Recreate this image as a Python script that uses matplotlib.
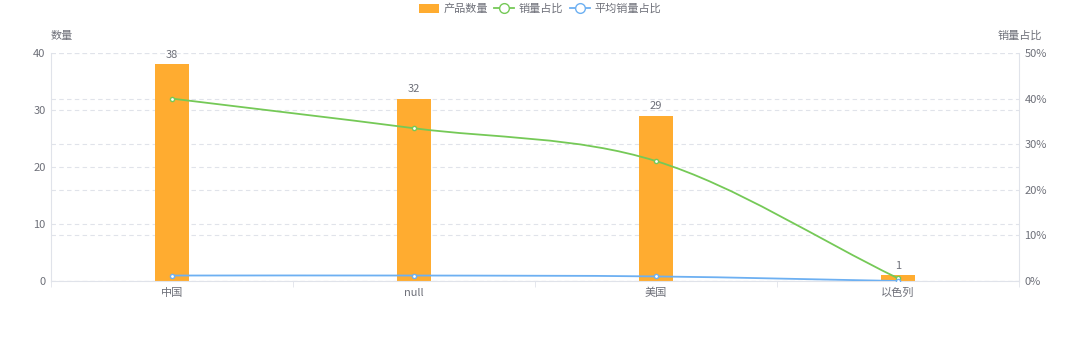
import matplotlib
matplotlib.use("Agg")
import matplotlib.pyplot as plt
import numpy as np
from matplotlib.path import Path
from matplotlib.patches import PathPatch, Patch
from matplotlib.lines import Line2D

plt.rcParams["font.family"] = ["Noto Sans CJK SC", "DejaVu Sans"]

categories = ["中国", "null", "美国", "以色列"]
counts = [38, 32, 29, 1]
sales_ratio = [40.0, 33.5, 26.3, 0.6]
avg_ratio = [1.2, 1.2, 1.0, 0.0]

TXT = "#6e7079"
GRID = "#e0e3ea"
ORANGE = "#ffac30"
GREEN = "#75c957"
BLUE = "#6db0f2"


def smooth_path(xs, ys, k=0.5):
    # cardinal-spline bezier through the points (echarts-like smooth)
    xs = np.asarray(xs, float); ys = np.asarray(ys, float)
    n = len(xs)
    tang = np.zeros(n)
    for j in range(n):
        if j == 0:
            tang[j] = ys[1] - ys[0]
        elif j == n - 1:
            tang[j] = ys[-1] - ys[-2]
        else:
            tang[j] = (ys[j + 1] - ys[j - 1]) / 2
    verts = [(xs[0], ys[0])]
    codes = [Path.MOVETO]
    for i in range(n - 1):
        dx = xs[i + 1] - xs[i]
        c1 = (xs[i] + dx / 3, ys[i] + tang[i] * k * 2 / 3)
        c2 = (xs[i + 1] - dx / 3, ys[i + 1] - tang[i + 1] * k * 2 / 3)
        verts += [c1, c2, (xs[i + 1], ys[i + 1])]
        codes += [Path.CURVE4] * 3
    return Path(verts, codes)


fig = plt.figure(figsize=(10.8, 3.38), dpi=100)
ax = fig.add_axes([51 / 1080, 57 / 338, 968 / 1080, 228 / 338])
ax2 = ax.twinx()
ax.set_zorder(2)
ax2.set_zorder(1)
ax.patch.set_visible(False)

x = np.arange(len(categories))
ax.bar(x, counts, width=0.14, color=ORANGE, zorder=2)
for xi, c in zip(x, counts):
    ax.text(xi, c + 0.8, str(c), ha="center", va="bottom", fontsize=8, color=TXT)

ax.set_xlim(-0.5, len(categories) - 0.5)
ax.set_ylim(0, 40)
ax.set_yticks([0, 10, 20, 30, 40])
ax2.set_ylim(0, 50)
ax2.set_yticks([0, 10, 20, 30, 40, 50])
ax2.set_yticklabels([f"{v}%" for v in range(0, 51, 10)])

for a in (ax, ax2):
    a.grid(axis="y", color=GRID, linestyle=(0, (4, 3)), linewidth=0.8)
    a.set_axisbelow(True)
    for s in a.spines.values():
        s.set_visible(False)
    a.tick_params(axis="y", length=0, labelsize=8, labelcolor=TXT, pad=4)
ax.spines["left"].set_visible(True)
ax.spines["left"].set_color(GRID)
ax2.spines["right"].set_visible(True)
ax2.spines["right"].set_color(GRID)
ax.spines["bottom"].set_visible(True)
ax.spines["bottom"].set_color(GRID)

ax.set_xticks(x)
ax.set_xticklabels(categories)
ax.set_xticks(np.arange(-0.5, len(categories)), minor=True)
ax.tick_params(axis="x", which="major", length=0, labelsize=8, labelcolor=TXT, pad=5)
ax.tick_params(axis="x", which="minor", length=4, color=GRID)

for vals, col in [(sales_ratio, GREEN), (avg_ratio, BLUE)]:
    ax.add_patch(PathPatch(smooth_path(x, vals), facecolor="none", edgecolor=col,
                           lw=1.3, zorder=3, transform=ax2.transData))
    ax.plot(x, vals, linestyle="none", marker="o", ms=3, mfc="white", mec=col,
            mew=1, zorder=4, transform=ax2.transData)

fig.text(62 / 1080, 1 - 36 / 338, "数量", ha="center", va="center", fontsize=8, color=TXT)
fig.text(1020 / 1080, 1 - 36 / 338, "销量占比", ha="center", va="center", fontsize=8, color=TXT)

handles = [
    Patch(facecolor=ORANGE, edgecolor="none"),
    Line2D([], [], color=GREEN, marker="o", mfc="white", ms=7, lw=1.3),
    Line2D([], [], color=BLUE, marker="o", mfc="white", ms=7, lw=1.3),
]
fig.legend(handles, ["产品数量", "销量占比", "平均销量占比"], loc="center",
           bbox_to_anchor=(0.5, 1 - 9 / 338), ncol=3, frameon=False, fontsize=8,
           labelcolor=TXT, handlelength=1.8, handleheight=0.9, columnspacing=0.6,
           handletextpad=0.4)

fig.savefig("out.png", dpi=100)
